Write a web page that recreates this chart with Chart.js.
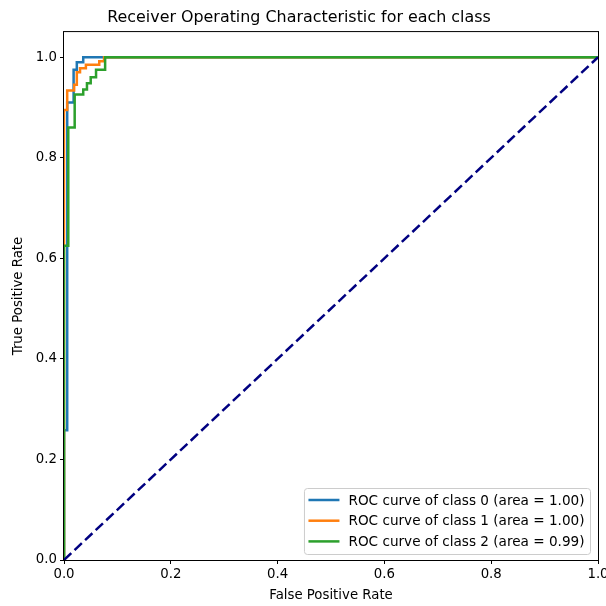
<!DOCTYPE html>
<html lang="en">
<head>
  <meta charset="UTF-8">
  <title>ROC curves</title>
  <script src="https://cdn.jsdelivr.net/npm/chart.js"></script>
  <style>
    html, body { margin: 0; padding: 0; background: #fff; }
  </style>
</head>
<body>
  <canvas id="rocChart" width="606" height="606"></canvas>

  <script>
    // ROC points per class (false positive rate / true positive rate)
    var fpr0 = [0, 0, 0.006, 0.006, 0.018, 0.018, 0.024, 0.024, 0.036, 0.036, 1];
    var tpr0 = [0, 0.258, 0.258, 0.91, 0.91, 0.975, 0.975, 0.99, 0.99, 1, 1];

    var fpr1 = [0, 0, 0.006, 0.006, 0.019, 0.019, 0.024, 0.024, 0.03, 0.03, 0.041, 0.041, 0.066, 0.066, 0.075, 0.075, 1];
    var tpr1 = [0, 0.895, 0.895, 0.934, 0.934, 0.945, 0.945, 0.97, 0.97, 0.978, 0.978, 0.985, 0.985, 0.992, 0.992, 1, 1];

    var fpr2 = [0, 0, 0.008, 0.008, 0.02, 0.02, 0.036, 0.036, 0.043, 0.043, 0.05, 0.05, 0.06, 0.06, 0.077, 0.077, 1];
    var tpr2 = [0, 0.625, 0.625, 0.86, 0.86, 0.926, 0.926, 0.936, 0.936, 0.948, 0.948, 0.96, 0.96, 0.975, 0.975, 1, 1];

    var aucs = [1.00, 1.00, 0.99];
    var classColors = ['#1f77b4', '#ff7f0e', '#2ca02c'];
    var tickValues = [0, 0.2, 0.4, 0.6, 0.8, 1.0];

    var FONT = 'DejaVu Sans';

    function toPoints(xs, ys) {
      return xs.map(function (x, i) { return { x: x, y: ys[i] }; });
    }

    function rocDataset(i, xs, ys) {
      return {
        label: 'ROC curve of class ' + i + ' (area = ' + aucs[i].toFixed(2) + ')',
        data: toPoints(xs, ys),
        borderColor: classColors[i],
        backgroundColor: classColors[i],
        borderWidth: 2.5,
        pointRadius: 0,
        tension: 0,
        fill: false,
        clip: 0,
        order: 3 - i
      };
    }

    // black box around the plot area, drawn over the curves
    var frame = {
      id: 'frame',
      afterDatasetsDraw: function (chart) {
        var a = chart.chartArea, ctx = chart.ctx;
        ctx.save();
        ctx.strokeStyle = '#000';
        ctx.lineWidth = 1;
        ctx.strokeRect(a.left - 0.5, a.top - 0.5, a.right - a.left + 1, a.bottom - a.top + 1);
        ctx.restore();
      }
    };

    // legend box in the lower right corner of the plot
    var insideLegend = {
      id: 'insideLegend',
      afterDraw: function (chart) {
        var a = chart.chartArea, ctx = chart.ctx;
        var sets = chart.data.datasets.filter(function (d) { return d.label; });
        ctx.save();
        ctx.font = '13.6px "' + FONT + '"';
        var maxW = 0;
        sets.forEach(function (d) { maxW = Math.max(maxW, ctx.measureText(d.label).width); });
        var w = 44 + maxW + 6, h = 66;
        var x = a.right - 7.5 - w, y = a.bottom - 5.5 - h;
        ctx.beginPath();
        ctx.roundRect(x, y, w, h, 3);
        ctx.fillStyle = 'rgba(255,255,255,0.8)';
        ctx.fill();
        ctx.strokeStyle = '#cccccc';
        ctx.lineWidth = 1;
        ctx.stroke();
        sets.forEach(function (d, i) {
          var cy = y + 11.5 + i * 20.7;
          ctx.beginPath();
          ctx.moveTo(x + 4, cy);
          ctx.lineTo(x + 35, cy);
          ctx.strokeStyle = d.borderColor;
          ctx.lineWidth = 2.5;
          ctx.stroke();
          ctx.fillStyle = '#000';
          ctx.textBaseline = 'middle';
          ctx.fillText(d.label, x + 44, cy + 1);
        });
        ctx.restore();
      }
    };

    function axisOptions(max, titleText, isX) {
      return {
        type: 'linear',
        min: 0,
        max: max,
        afterBuildTicks: function (scale) {
          scale.ticks = tickValues.map(function (v) { return { value: v }; });
        },
        afterFit: function (scale) {
          if (isX) {
            scale.height = 46;
            scale.paddingLeft = 0;
            scale.paddingRight = 0;
          } else {
            scale.width = 64;
            scale.paddingTop = 0;
            scale.paddingBottom = 0;
          }
        },
        ticks: {
          color: '#000',
          font: { family: FONT, size: 13.3 },
          padding: 3,
          autoSkip: false,
          maxRotation: 0,
          callback: function (v) { return Number(v).toFixed(1); }
        },
        grid: {
          display: true,
          drawOnChartArea: false,
          drawTicks: true,
          tickLength: 4,
          tickColor: '#000',
          tickWidth: 1
        },
        border: { display: false },
        title: {
          display: true,
          text: titleText,
          color: '#000',
          font: { family: FONT, size: 13.3 },
          padding: isX ? { top: 0, bottom: 2 } : { top: 11, bottom: 0 }
        }
      };
    }

    var ctx = document.getElementById('rocChart').getContext('2d');
    var chart = new Chart(ctx, {
      type: 'line',
      data: {
        datasets: [
          rocDataset(0, fpr0, tpr0),
          rocDataset(1, fpr1, tpr1),
          rocDataset(2, fpr2, tpr2),
          {
            label: '',
            data: toPoints([0, 1], [0, 1]),
            borderColor: '#000080',
            borderWidth: 2.5,
            borderDash: [10, 4.5],
            pointRadius: 0,
            fill: false,
            clip: 0,
            order: 0
          }
        ]
      },
      options: {
        responsive: false,
        animation: false,
        devicePixelRatio: 1,
        layout: { padding: { top: 0, right: 8, bottom: 0, left: 0 } },
        plugins: {
          legend: { display: false },
          tooltip: { enabled: false },
          title: {
            display: true,
            text: 'Receiver Operating Characteristic for each class',
            color: '#000',
            font: { family: FONT, size: 15.9, weight: 'normal' },
            padding: { top: 8, bottom: 5 }
          }
        },
        scales: {
          x: axisOptions(1, 'False Positive Rate', true),
          y: axisOptions(1.05, 'True Positive Rate', false)
        }
      },
      plugins: [frame, insideLegend]
    });
  </script>
</body>
</html>
